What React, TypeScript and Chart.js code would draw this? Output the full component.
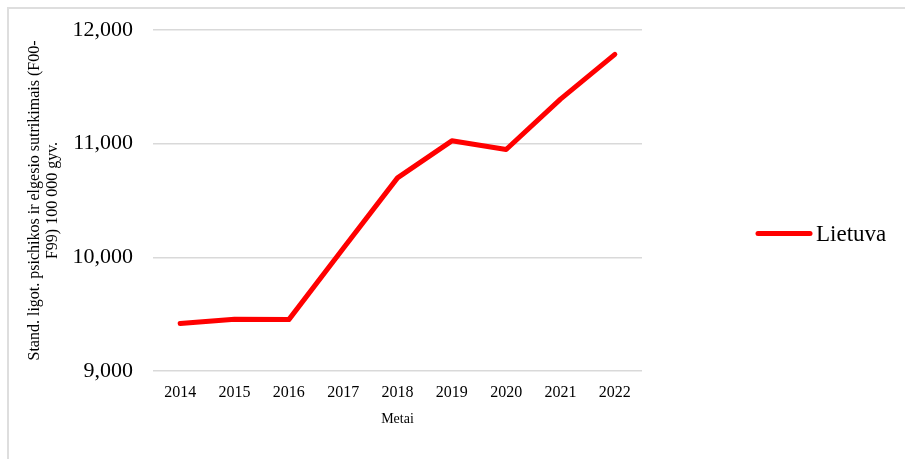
import React, { useEffect, useRef } from "react";
import { Chart, registerables } from "chart.js";

Chart.register(...registerables);

const years = ["2014", "2015", "2016", "2017", "2018", "2019", "2020", "2021", "2022"];
const lietuva = [9417, 9455, 9452, 10078, 10699, 11025, 10949, 11392, 11785];
const seriesLabel = "Lietuva";
const yTitle = ["Stand. ligot. psichikos ir elgesio sutrikimais (F00-", "F99) 100 000 gyv."];
const xTitle = "Metai";
const yMin = 9000;
const yMax = 12000;
const yStep = 1000;

const SERIF = "'Liberation Serif', 'Times New Roman', serif";

const lineLegend = {
  id: "lineLegend",
  afterDraw(chart: any) {
    const { ctx, chartArea } = chart;
    const ds = chart.data.datasets[0];
    const x0 = chartArea.right + 116;
    const y = (chartArea.top + chartArea.bottom) / 2 + 33;
    const len = 52;
    ctx.save();
    ctx.strokeStyle = ds.borderColor;
    ctx.lineWidth = ds.borderWidth;
    ctx.lineCap = "round";
    ctx.beginPath();
    ctx.moveTo(x0, y);
    ctx.lineTo(x0 + len, y);
    ctx.stroke();
    ctx.fillStyle = "#000";
    ctx.font = `23px ${SERIF}`;
    ctx.textBaseline = "middle";
    ctx.textAlign = "left";
    ctx.fillText(ds.label, x0 + len + 6, y + 1);
    ctx.restore();
  },
};

export default function App() {
  const ref = useRef<HTMLCanvasElement>(null);
  useEffect(() => {
    if (!ref.current) return;
    const chart = new Chart(ref.current, {
      type: "line",
      data: {
        labels: years,
        datasets: [
          {
            label: seriesLabel,
            data: lietuva,
            borderColor: "#ff0000",
            backgroundColor: "#ff0000",
            borderWidth: 5,
            borderCapStyle: "round",
            borderJoinStyle: "round",
            pointRadius: 0,
            tension: 0,
          },
        ],
      },
      options: {
        responsive: false,
        animation: false,
        layout: { padding: { left: 22, right: 263, top: 30, bottom: 27 } },
        plugins: {
          legend: { display: false },
          tooltip: { enabled: false },
        },
        scales: {
          x: {
            offset: true,
            grid: { display: false, drawTicks: false },
            border: { display: false },
            ticks: { color: "#000", font: { family: SERIF, size: 16 }, padding: 12, maxRotation: 0 },
            title: {
              display: true,
              text: xTitle,
              color: "#000",
              font: { family: SERIF, size: 14 },
              padding: { top: 8, bottom: 4 },
            },
            afterFit: (scale: any) => {
              scale.height = 61;
              scale.paddingLeft = 0;
              scale.paddingRight = 0;
            },
          },
          y: {
            min: yMin,
            max: yMax,
            grid: { color: "#d9d9d9", lineWidth: 1.5, drawTicks: false },
            border: { display: false },
            ticks: {
              stepSize: yStep,
              color: "#000",
              font: { family: SERIF, size: 22 },
              padding: 20,
              callback: (v: any) => Number(v).toLocaleString("en-US"),
            },
            title: {
              display: true,
              text: yTitle,
              color: "#000",
              font: { family: SERIF, size: 16, lineHeight: 1.125 },
              padding: { top: 4, bottom: 4 },
            },
            afterFit: (scale: any) => {
              scale.width = 131;
              scale.paddingTop = 0;
              scale.paddingBottom = 0;
            },
          },
        },
      },
      plugins: [lineLegend],
    });
    return () => chart.destroy();
  }, []);

  return (
    <>
      <div
        style={{
          position: "fixed",
          left: 7,
          top: 7,
          width: 1000,
          height: 1000,
          border: "2px solid #dedede",
          background: "#fff",
        }}
      />
      <canvas
        ref={ref}
        width={905}
        height={459}
        style={{ position: "fixed", left: 0, top: 0, width: 905, height: 459, display: "block" }}
      />
    </>
  );
}
